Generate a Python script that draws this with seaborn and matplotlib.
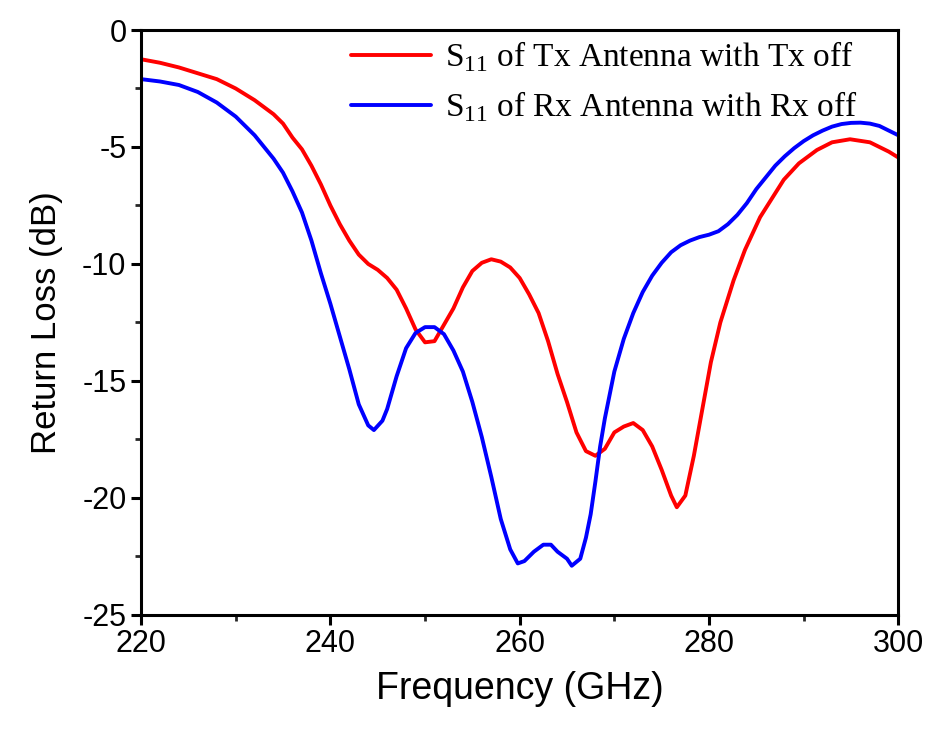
import numpy as np
import pandas as pd
import matplotlib
matplotlib.use('Agg')
import matplotlib.pyplot as plt
import seaborn as sns
from matplotlib.ticker import MultipleLocator

# S11 of Tx antenna (Tx off)
freq_tx = [220, 222, 224, 226, 228, 230, 232, 234, 235, 236, 237, 238, 239, 240,
           241, 242, 243, 244, 245, 246, 247, 248, 249, 250, 251, 252, 253, 254,
           255, 256, 257, 258, 259, 260, 261, 262, 263, 264, 265, 266, 267, 268,
           269, 270, 271, 272, 273, 274, 275, 276, 276.6, 277.5, 278.4, 279.3,
           280.2, 281.2, 282.6, 283.8, 285.4, 287.9, 289.5, 291.4, 293, 294.9,
           297, 299, 300]
s11_tx = [-1.25, -1.4, -1.6, -1.85, -2.1, -2.5, -3.0, -3.6, -4.0, -4.6, -5.1, -5.8,
          -6.6, -7.5, -8.3, -9.0, -9.6, -10.0, -10.25, -10.6, -11.1, -11.9, -12.8,
          -13.35, -13.3, -12.6, -11.9, -11.0, -10.3, -9.95, -9.8, -9.9, -10.15,
          -10.6, -11.3, -12.1, -13.3, -14.7, -15.9, -17.2, -18.0, -18.2, -17.9,
          -17.2, -16.95, -16.8, -17.1, -17.8, -18.8, -19.9, -20.4, -19.9, -18.2,
          -16.2, -14.2, -12.5, -10.7, -9.4, -8.0, -6.4, -5.7, -5.13, -4.8, -4.67,
          -4.8, -5.2, -5.45]

# S11 of Rx antenna (Rx off)
freq_rx = [220, 222, 224, 226, 228, 230, 232, 234, 235, 236, 237, 238, 239, 240,
           241, 242, 243, 244, 244.6, 245.5, 246, 247, 248, 249, 250, 251, 252,
           253, 254, 255, 256, 257, 258, 259, 259.8, 260.5, 261.5, 262.5, 263.3,
           264, 265, 265.5, 266.4, 267, 267.5, 268, 268.5, 269, 270, 271, 272,
           273, 274, 275, 276, 277, 278, 279, 280, 281, 282, 283, 284, 285, 286,
           287, 288, 289, 290, 291, 292, 293, 294, 295, 296, 297, 298, 299, 300]
s11_rx = [-2.1, -2.2, -2.35, -2.65, -3.1, -3.7, -4.5, -5.5, -6.1, -6.9, -7.8, -9.0,
          -10.4, -11.7, -13.1, -14.5, -16.0, -16.9, -17.1, -16.7, -16.2, -14.8,
          -13.6, -12.95, -12.7, -12.7, -13.0, -13.7, -14.6, -15.9, -17.4, -19.1,
          -20.9, -22.2, -22.8, -22.7, -22.3, -22.0, -22.0, -22.3, -22.6, -22.9,
          -22.6, -21.7, -20.7, -19.3, -17.8, -16.6, -14.6, -13.2, -12.1, -11.2,
          -10.5, -9.95, -9.5, -9.2, -9.0, -8.85, -8.75, -8.6, -8.3, -7.9, -7.4,
          -6.8, -6.3, -5.8, -5.4, -5.05, -4.75, -4.5, -4.3, -4.13, -4.02, -3.97,
          -3.96, -4.0, -4.1, -4.3, -4.5]

label_tx = r'S$_{11}$ of Tx Antenna with Tx off'
label_rx = r'S$_{11}$ of Rx Antenna with Rx off'

sns.set_style('ticks')
plt.rcParams['mathtext.fontset'] = 'custom'
plt.rcParams['mathtext.rm'] = 'Liberation Serif'
plt.rcParams['axes.unicode_minus'] = False
plt.rcParams['text.color'] = 'black'
plt.rcParams['axes.labelcolor'] = 'black'
plt.rcParams['font.family'] = ['Liberation Sans', 'DejaVu Sans']

fig = plt.figure(figsize=(9.28, 7.32), dpi=100)
ax = fig.add_axes([0.152, 0.160, 0.816, 0.799])

sns.lineplot(x=freq_tx, y=s11_tx, color='#ff0000', lw=2.8, label=label_tx,
             estimator=None, ax=ax)
sns.lineplot(x=freq_rx, y=s11_rx, color='#0000ff', lw=2.8, label=label_rx,
             estimator=None, ax=ax)

ax.set_xlim(220, 300)
ax.set_ylim(-25, 0)
ax.xaxis.set_major_locator(MultipleLocator(20))
ax.xaxis.set_minor_locator(MultipleLocator(10))
ax.yaxis.set_major_locator(MultipleLocator(5))
ax.yaxis.set_minor_locator(MultipleLocator(2.5))

for s in ax.spines.values():
    s.set_linewidth(2.2)
    s.set_color('black')
ax.tick_params(which='major', direction='out', length=7, width=2.2,
               labelsize=22, colors='black')
ax.tick_params(which='minor', direction='out', length=4.5, width=2.0)
ax.tick_params(top=False, right=False, which='both')

ax.set_xlabel('Frequency (GHz)', fontsize=27, labelpad=8)
ax.set_ylabel('Return Loss (dB)', fontsize=25, labelpad=14)

leg = ax.legend(loc='upper right', bbox_to_anchor=(0.985, 1.035), frameon=False,
                prop={'family': 'Liberation Serif', 'size': 24},
                handlelength=2.4, handletextpad=0.4, labelspacing=0.45)

fig.savefig('out.png', dpi=100)
